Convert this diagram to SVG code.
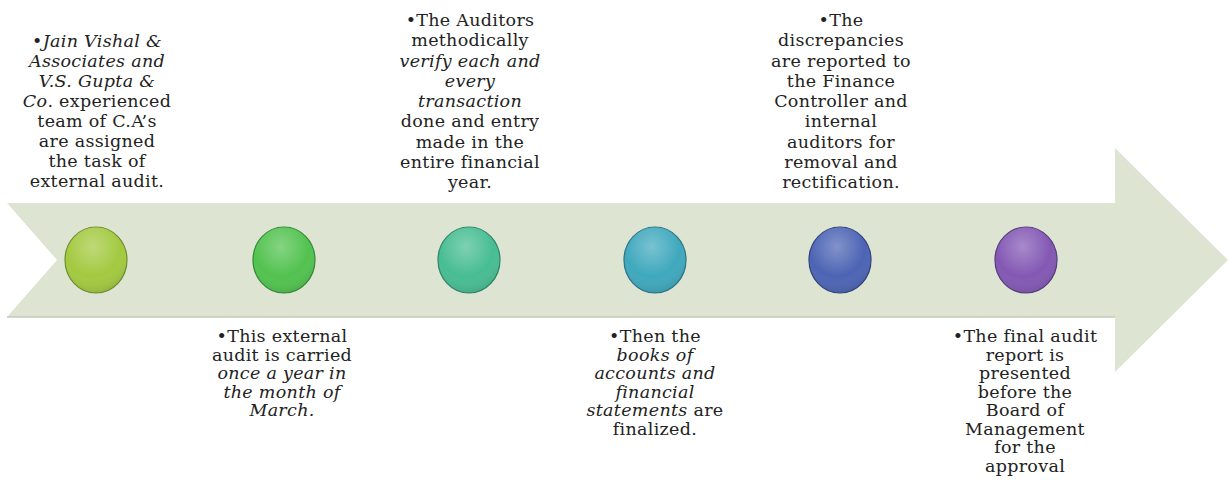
<svg xmlns="http://www.w3.org/2000/svg" width="1228" height="487" viewBox="0 0 1228 487">
<style>
.t{font-family:"DejaVu Serif","Liberation Serif",serif;font-size:17.5px;letter-spacing:0.3px;fill:#222;text-anchor:middle}
.i{font-style:italic}
.dot{stroke-width:1.2}
</style>
<defs>
<radialGradient id="hl" cx="0.45" cy="0.3" r="0.75">
<stop offset="0" stop-color="#fff" stop-opacity="0.3"/>
<stop offset="0.6" stop-color="#fff" stop-opacity="0"/>
<stop offset="1" stop-color="#000" stop-opacity="0.15"/>
</radialGradient>
</defs>
<rect width="1228" height="487" fill="#fff"/>
<g id="arrow">
<polygon points="7,203 1115,203 1115,148 1228,260 1115,372 1115,317 7,317 57,260" fill="#dde5d2"/>
<line x1="7" y1="317" x2="1115" y2="317" stroke="#c3cbb8" stroke-width="1.5"/>
</g>
<g id="n1"><ellipse cx="96" cy="260" rx="31" ry="33" fill="#a3c940" stroke="#6f8f2a" class="dot"/><ellipse cx="96" cy="260" rx="31" ry="33" fill="url(#hl)"/>
<text class="t"><tspan x="97" y="47" class="i">•Jain Vishal &amp;</tspan><tspan x="97" y="67" class="i">Associates and</tspan><tspan x="97" y="87" class="i">V.S. Gupta &amp;</tspan><tspan x="97" y="107"><tspan class="i">Co</tspan>. experienced</tspan><tspan x="97" y="127">team of C.A’s</tspan><tspan x="97" y="147">are assigned</tspan><tspan x="97" y="167">the task of</tspan><tspan x="97" y="187">external audit.</tspan></text></g>
<g id="n2"><ellipse cx="284" cy="260" rx="31" ry="33" fill="#52c24f" stroke="#2f8a33" class="dot"/><ellipse cx="284" cy="260" rx="31" ry="33" fill="url(#hl)"/>
<text class="t"><tspan x="282" y="342">•This external</tspan><tspan x="282" y="360.5">audit is carried</tspan><tspan x="282" y="379" class="i">once a year in</tspan><tspan x="282" y="397.5" class="i">the month of</tspan><tspan x="282" y="416" class="i">March.</tspan></text></g>
<g id="n3"><ellipse cx="469" cy="260" rx="31" ry="33" fill="#47bd92" stroke="#2a8565" class="dot"/><ellipse cx="469" cy="260" rx="31" ry="33" fill="url(#hl)"/>
<text class="t"><tspan x="470" y="26">•The Auditors</tspan><tspan x="470" y="46.2">methodically</tspan><tspan x="470" y="66.5" class="i">verify each and</tspan><tspan x="470" y="86.7" class="i">every</tspan><tspan x="470" y="107" class="i">transaction</tspan><tspan x="470" y="127.2">done and entry</tspan><tspan x="470" y="147.5">made in the</tspan><tspan x="470" y="167.7">entire financial</tspan><tspan x="470" y="188">year.</tspan></text></g>
<g id="n4"><ellipse cx="655" cy="260" rx="31" ry="33" fill="#3fa8bd" stroke="#277385" class="dot"/><ellipse cx="655" cy="260" rx="31" ry="33" fill="url(#hl)"/>
<text class="t"><tspan x="655" y="342">•Then the</tspan><tspan x="655" y="360.5" class="i">books of</tspan><tspan x="655" y="379" class="i">accounts and</tspan><tspan x="655" y="397.5" class="i">financial</tspan><tspan x="655" y="416"><tspan class="i">statements</tspan> are</tspan><tspan x="655" y="434.5">finalized.</tspan></text></g>
<g id="n5"><ellipse cx="840" cy="260" rx="31" ry="33" fill="#4c64b4" stroke="#2f3f7e" class="dot"/><ellipse cx="840" cy="260" rx="31" ry="33" fill="url(#hl)"/>
<text class="t"><tspan x="841" y="26">•The</tspan><tspan x="841" y="46.2">discrepancies</tspan><tspan x="841" y="66.5">are reported to</tspan><tspan x="841" y="86.7">the Finance</tspan><tspan x="841" y="107">Controller and</tspan><tspan x="841" y="127.2">internal</tspan><tspan x="841" y="147.5">auditors for</tspan><tspan x="841" y="167.7">removal and</tspan><tspan x="841" y="188">rectification.</tspan></text></g>
<g id="n6"><ellipse cx="1026" cy="260" rx="31" ry="33" fill="#8358b4" stroke="#56397e" class="dot"/><ellipse cx="1026" cy="260" rx="31" ry="33" fill="url(#hl)"/>
<text class="t"><tspan x="1025" y="342">•The final audit</tspan><tspan x="1025" y="360.5">report is</tspan><tspan x="1025" y="379">presented</tspan><tspan x="1025" y="397.5">before the</tspan><tspan x="1025" y="416">Board of</tspan><tspan x="1025" y="434.5">Management</tspan><tspan x="1025" y="453">for the</tspan><tspan x="1025" y="471.5">approval</tspan></text></g>
<g id="connectors"></g>
</svg>
